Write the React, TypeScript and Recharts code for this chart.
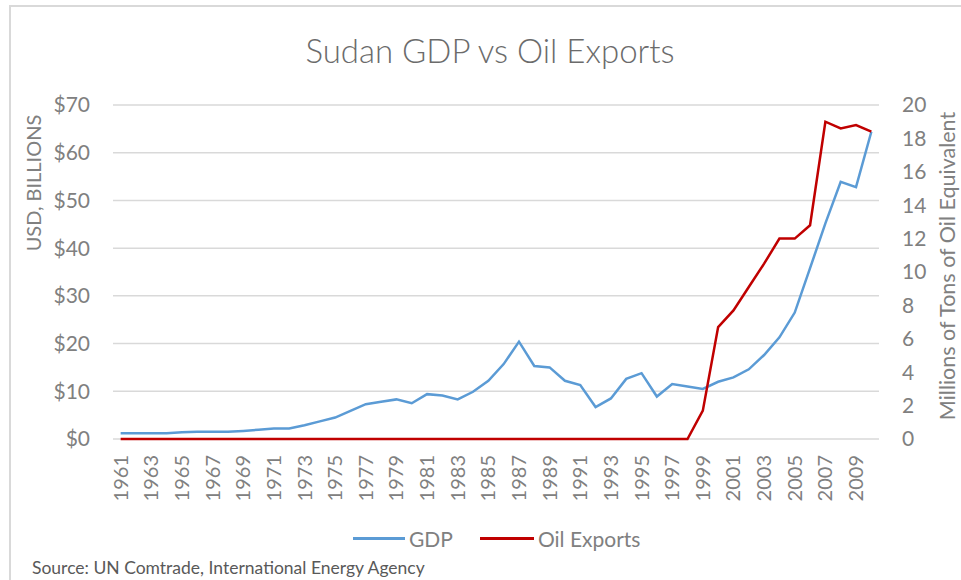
import React from 'react';
import { LineChart, Line, XAxis, YAxis, CartesianGrid } from 'recharts';

const years = [
  1961, 1962, 1963, 1964, 1965, 1966, 1967, 1968, 1969, 1970,
  1971, 1972, 1973, 1974, 1975, 1976, 1977, 1978, 1979, 1980,
  1981, 1982, 1983, 1984, 1985, 1986, 1987, 1988, 1989, 1990,
  1991, 1992, 1993, 1994, 1995, 1996, 1997, 1998, 1999, 2000,
  2001, 2002, 2003, 2004, 2005, 2006, 2007, 2008, 2009, 2010,
];

const gdp = [
  1.2, 1.2, 1.2, 1.2, 1.4, 1.5, 1.5, 1.5, 1.7, 1.95,
  2.2, 2.2, 2.9, 3.7, 4.5, 5.9, 7.3, 7.8, 8.3, 7.5,
  9.4, 9.1, 8.3, 9.9, 12.2, 15.7, 20.4, 15.3, 15.0, 12.2,
  11.3, 6.7, 8.5, 12.6, 13.8, 8.9, 11.5, 11.0, 10.5, 12.0,
  12.9, 14.6, 17.6, 21.3, 26.5, 35.8, 45.2, 53.9, 52.8, 64.4,
];

const oil = [
  0, 0, 0, 0, 0, 0, 0, 0, 0, 0,
  0, 0, 0, 0, 0, 0, 0, 0, 0, 0,
  0, 0, 0, 0, 0, 0, 0, 0, 0, 0,
  0, 0, 0, 0, 0, 0, 0, 0, 1.7, 6.7,
  7.7, 9.1, 10.5, 12.0, 12.0, 12.8, 19.0, 18.6, 18.8, 18.4,
];

const xTicks = [
  1961, 1963, 1965, 1967, 1969, 1971, 1973, 1975, 1977, 1979, 1981, 1983,
  1985, 1987, 1989, 1991, 1993, 1995, 1997, 1999, 2001, 2003, 2005, 2007, 2009,
];
const leftTicks = [0, 10, 20, 30, 40, 50, 60, 70];
const rightTicks = [0, 2, 4, 6, 8, 10, 12, 14, 16, 18, 20];

const data = years.map((y, i) => ({ year: y, gdp: gdp[i], oil: oil[i] }));

const FONT = 'Lato, "Open Sans", sans-serif';
const TICK_COLOR = '#808080';

const YearTick = (props: any) => {
  const { x, y, payload } = props;
  return (
    <text
      x={x}
      y={y}
      transform={`rotate(-90, ${x}, ${y})`}
      textAnchor="end"
      dy="0.35em"
      fill={TICK_COLOR}
      fontSize={20}
      fontFamily={FONT}
    >
      {payload.value}
    </text>
  );
};

export default function App() {
  return (
    <div
      style={{
        position: 'absolute',
        left: 0,
        top: 0,
        width: 961,
        height: 580,
        background: '#fff',
        fontFamily: FONT,
        overflow: 'hidden',
      }}
    >
      <div
        style={{
          position: 'absolute',
          left: 9,
          top: 5,
          width: 970,
          height: 600,
          borderLeft: '2px solid #d9d9d9',
          borderTop: '2px solid #d9d9d9',
        }}
      />
      <div
        style={{
          position: 'absolute',
          left: 0,
          width: 980,
          top: 28,
          textAlign: 'center',
          fontSize: 33,
          fontWeight: 300,
          color: '#6b6b6b',
          lineHeight: '44px',
        }}
      >
        Sudan GDP vs Oil Exports
      </div>
      <div style={{ position: 'absolute', left: 0, top: 0 }}>
        <LineChart
          width={961}
          height={580}
          data={data}
          margin={{ top: 105, right: 22, bottom: 71, left: 53 }}
        >
          <CartesianGrid vertical={false} stroke="#d9d9d9" strokeWidth={1.5} yAxisId="left" />
          <XAxis
            dataKey="year"
            type="number"
            domain={[1960.5, 2010.5]}
            ticks={xTicks}
            interval={0}
            axisLine={false}
            tickLine={false}
            tickSize={0}
            tickMargin={16}
            height={70}
            tick={<YearTick />}
          />
          <YAxis
            yAxisId="left"
            orientation="left"
            domain={[0, 70]}
            ticks={leftTicks}
            tickFormatter={(v: number) => `$${v}`}
            axisLine={false}
            tickLine={false}
            tickSize={0}
            tickMargin={23}
            width={60}
            tick={{ fill: TICK_COLOR, fontSize: 21, fontFamily: FONT }}
          />
          <YAxis
            yAxisId="right"
            orientation="right"
            domain={[0, 20]}
            ticks={rightTicks}
            axisLine={false}
            tickLine={false}
            tickSize={0}
            tickMargin={23}
            width={60}
            tick={{ fill: TICK_COLOR, fontSize: 21, fontFamily: FONT, textAnchor: 'start' }}
          />
          <Line
            yAxisId="left"
            type="linear"
            dataKey="gdp"
            stroke="#5b9bd5"
            strokeWidth={2.5}
            dot={false}
            isAnimationActive={false}
          />
          <Line
            yAxisId="right"
            type="linear"
            dataKey="oil"
            stroke="#c00000"
            strokeWidth={2.5}
            dot={false}
            isAnimationActive={false}
          />
        </LineChart>
      </div>
      <div
        style={{
          position: 'absolute',
          left: 33,
          top: 183,
          transform: 'translate(-50%, -50%) rotate(-90deg)',
          whiteSpace: 'nowrap',
          fontSize: 20,
          color: TICK_COLOR,
        }}
      >
        USD, BILLIONS
      </div>
      <div
        style={{
          position: 'absolute',
          left: 947,
          top: 266,
          transform: 'translate(-50%, -50%) rotate(-90deg)',
          whiteSpace: 'nowrap',
          fontSize: 21.5,
          color: TICK_COLOR,
        }}
      >
        Millions of Tons of Oil Equivalent
      </div>
      <div
        style={{
          position: 'absolute',
          left: 353,
          top: 524,
          height: 28,
          display: 'flex',
          alignItems: 'center',
          fontSize: 21,
          color: TICK_COLOR,
          whiteSpace: 'nowrap',
        }}
      >
        <span style={{ display: 'inline-block', width: 52, height: 3, background: '#5b9bd5' }} />
        <span style={{ marginLeft: 4 }}>GDP</span>
        <span
          style={{ display: 'inline-block', width: 54, height: 3, background: '#c00000', marginLeft: 27 }}
        />
        <span style={{ marginLeft: 4 }}>Oil Exports</span>
      </div>
      <div
        style={{
          position: 'absolute',
          left: 32,
          top: 557,
          fontSize: 17.5,
          color: '#595959',
          whiteSpace: 'nowrap',
          lineHeight: '22px',
        }}
      >
        Source: UN Comtrade, International Energy Agency
      </div>
    </div>
  );
}
